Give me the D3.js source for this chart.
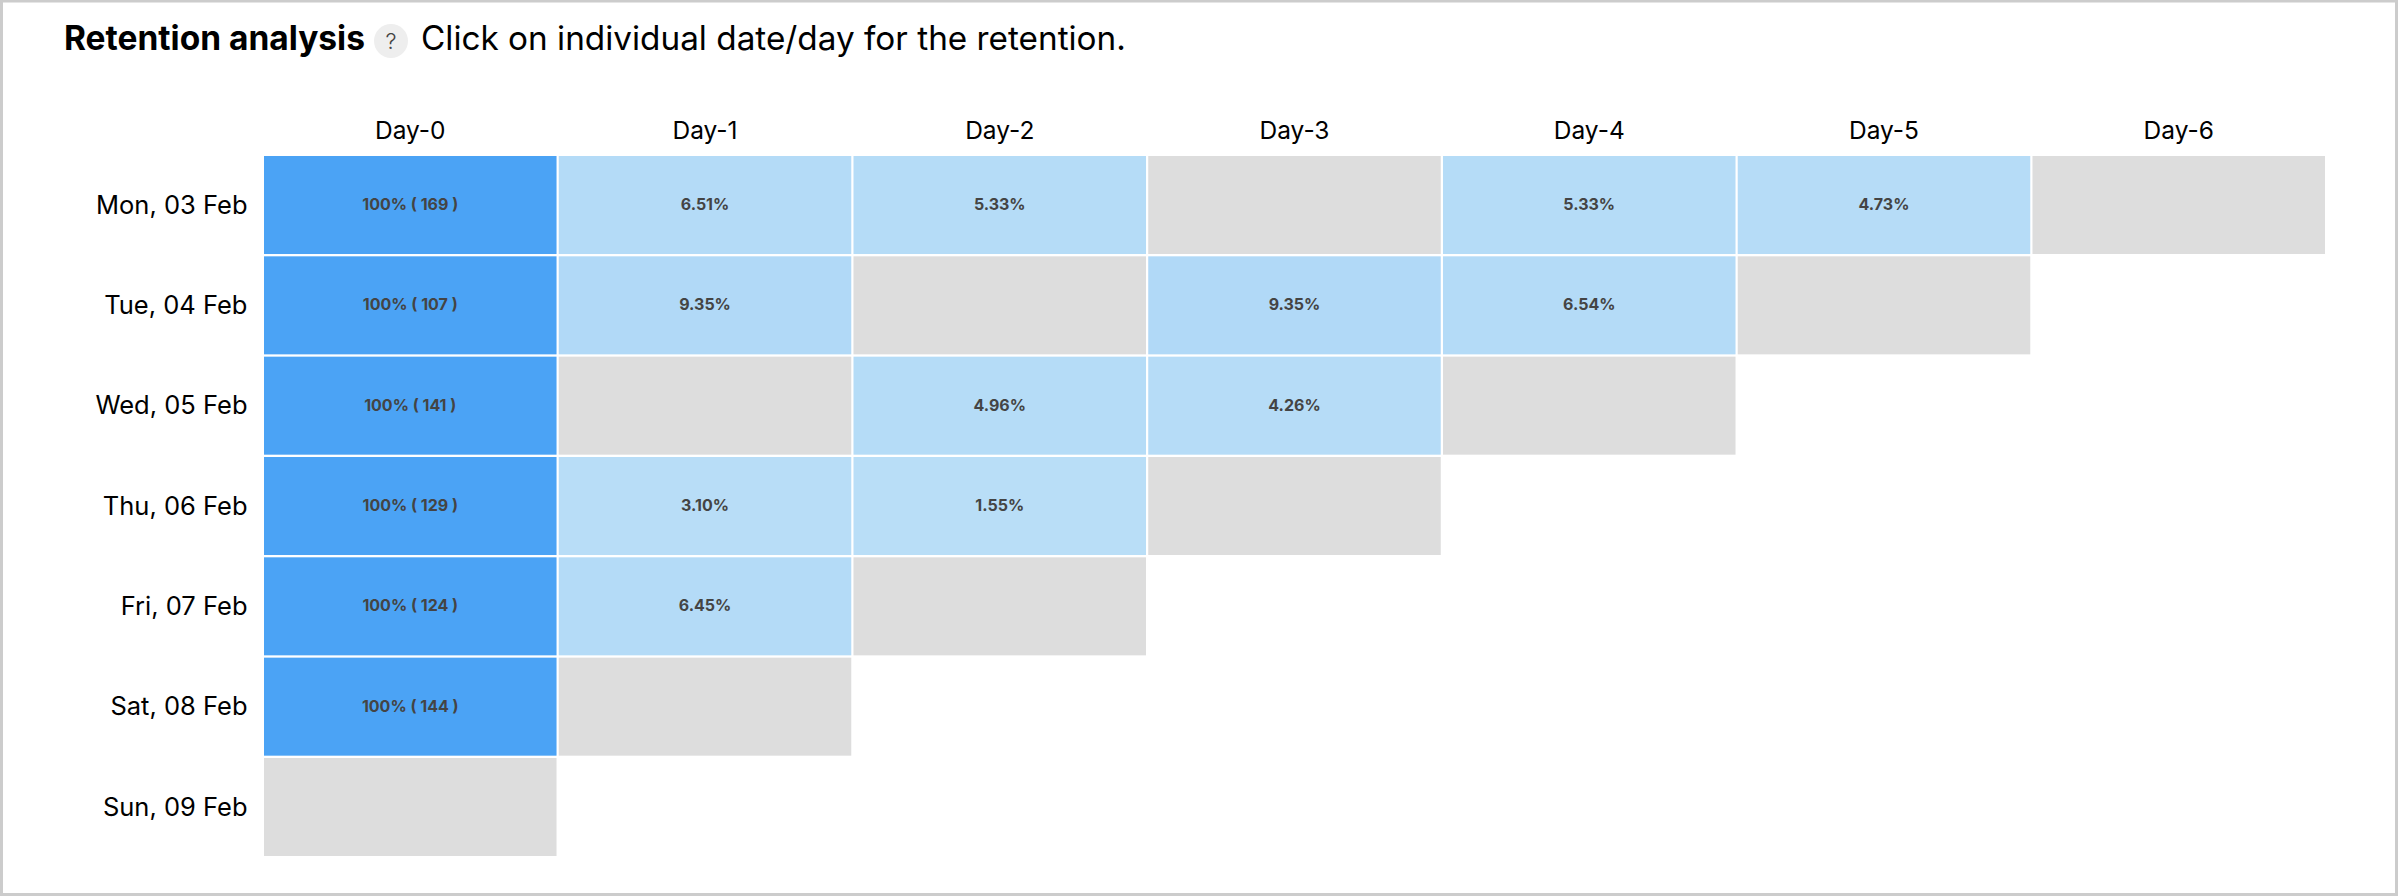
<!DOCTYPE html>
<html>
<head>
<meta charset="utf-8">
<script src="https://cdn.jsdelivr.net/npm/d3@7"></script>
<style>
  html, body { margin: 0; padding: 0; background: #fff; }
  svg { display: block; }
  text { font-family: Inter, "Noto Sans", sans-serif; }
  .domain { display: none; }
</style>
</head>
<body>
<script>
(function() {

var dates = ["Mon, 03 Feb", "Tue, 04 Feb", "Wed, 05 Feb", "Thu, 06 Feb", "Fri, 07 Feb", "Sat, 08 Feb", "Sun, 09 Feb"],
    days  = ["Day-0", "Day-1", "Day-2", "Day-3", "Day-4", "Day-5", "Day-6"],
    users = [169, 107, 141, 129, 124, 144, null];

// percent retained, one list per cohort. null = no data (grey cell)
var mon = [100, 6.51, 5.33, null, 5.33, 4.73, null],
    tue = [100, 9.35, null, 9.35, 6.54, null],
    wed = [100, null, 4.96, 4.26, null],
    thu = [100, 3.10, 1.55, null],
    fri = [100, 6.45, null],
    sat = [100, null],
    sun = [null];

var retention = [mon, tue, wed, thu, fri, sat, sun];

var width = 2398, height = 896,
    color_empty = "#dddddd",
    color_text = "#444444";

var x = d3.scaleBand().domain(days).range([264, 2325]).paddingInner(0.0075).paddingOuter(0),
    y = d3.scaleBand().domain(dates).range([156, 856]).paddingInner(0.023).paddingOuter(0),
    color = d3.scaleLinear().domain([0, 100]).range(["#bbdff7", "#4ba3f5"]);

var svg = d3.select("body").append("svg")
    .attr("width", width)
    .attr("height", height);

svg.append("rect")
    .attr("x", 1.5).attr("y", 1)
    .attr("width", width - 3).attr("height", height - 2.5)
    .attr("fill", "#fff")
    .attr("stroke", "#cccccc")
    .attr("stroke-width", 3);

/* title */
svg.append("text")
    .attr("x", 64).attr("y", 50)
    .attr("font-size", 33.5).attr("font-weight", 700).attr("fill", "#000")
    .text("Retention analysis");

svg.append("circle")
    .attr("cx", 391).attr("cy", 41).attr("r", 17)
    .attr("fill", "#eeeeee");

svg.append("text")
    .attr("x", 391).attr("y", 49)
    .attr("text-anchor", "middle")
    .attr("font-size", 22).attr("font-weight", 300).attr("fill", "#444")
    .text("?");

svg.append("text")
    .attr("x", 421).attr("y", 50)
    .attr("font-size", 33.3).attr("font-weight", 400).attr("fill", "#000")
    .text("Click on individual date/day for the retention.");

/* axes */
var gx = svg.append("g")
    .attr("transform", "translate(0,147.5)")
    .call(d3.axisTop(x).tickSize(0).tickPadding(0));

gx.selectAll("text")
    .attr("font-size", 24.5).attr("fill", "#000")
    .attr("dy", "-0.35em");

var gy = svg.append("g")
    .attr("transform", "translate(247.5,0.5)")
    .call(d3.axisLeft(y).tickSize(0).tickPadding(0));

gy.selectAll("text")
    .attr("font-size", 25.5).attr("fill", "#000");

gx.attr("font-family", null);
gy.attr("font-family", null);

/* cells */
var cells = [];
retention.forEach(function(r, i) {
  r.forEach(function(v, j) {
    cells.push({ date: dates[i], day: days[j], value: v, n: users[i] });
  });
});

function cell_label(d) {
  if (d.value === null) return "";
  if (d.value === 100) return "100% ( " + d.n + " )";
  return d.value.toFixed(2) + "%";
}

var g = svg.append("g").selectAll("g")
    .data(cells)
    .enter()
    .append("g");

g.append("rect")
    .attr("x", function(d) { return x(d.day); })
    .attr("y", function(d) { return y(d.date); })
    .attr("width", x.bandwidth())
    .attr("height", y.bandwidth())
    .attr("fill", function(d) { return d.value === null ? color_empty : color(d.value); });

g.append("text")
    .attr("x", function(d) { return x(d.day) + x.bandwidth() / 2; })
    .attr("y", function(d) { return y(d.date) + y.bandwidth() / 2 - 0.5; })
    .attr("text-anchor", "middle")
    .attr("dy", "0.35em")
    .attr("font-size", 16)
    .attr("font-weight", 700)
    .attr("fill", color_text)
    .text(cell_label);

}());
</script>
</body>
</html>
